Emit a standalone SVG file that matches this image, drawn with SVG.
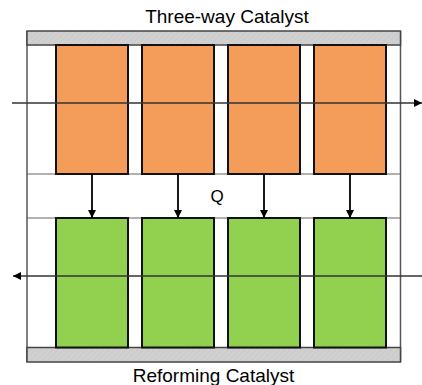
<svg xmlns="http://www.w3.org/2000/svg" width="422" height="385" viewBox="0 0 422 385">
  <style>
    .label { font-family: "Liberation Sans", Arial, sans-serif; fill: #000; }
    .frame { fill: none; stroke: #555; stroke-width: 1.5; }
    .band { stroke: #666; stroke-width: 1.2; }
    .bar { fill: url(#hatch); stroke: #444; stroke-width: 1.5; }
    .twc { fill: #F49D5A; stroke: #111; stroke-width: 2; }
    .ref { fill: #92D050; stroke: #111; stroke-width: 2; }
    .flow { stroke: #333; stroke-width: 1.5; fill: none; }
    .q { stroke: #000; stroke-width: 1.8; fill: none; }
  </style>
  <defs>
    <pattern id="hatch" width="4" height="4" patternUnits="userSpaceOnUse" patternTransform="rotate(45)">
      <rect width="4" height="4" fill="#d0d0d0"/>
      <line x1="0" y1="0" x2="0" y2="4" stroke="#c4c4c4" stroke-width="1"/>
    </pattern>
    <marker id="head" viewBox="0 0 10 10" refX="10" refY="5" markerWidth="8" markerHeight="8" markerUnits="userSpaceOnUse" orient="auto">
      <path d="M0,0 L10,5 L0,10 Z" fill="#000"/>
    </marker>
    <marker id="headq" viewBox="0 0 10 10" refX="10" refY="5" markerWidth="11" markerHeight="8" markerUnits="userSpaceOnUse" orient="auto">
      <path d="M0,0 L10,5 L0,10 Z" fill="#000"/>
    </marker>
  </defs>

  <g id="frame">
    <line class="frame" x1="27" y1="31" x2="27" y2="362"/>
    <line class="frame" x1="400.5" y1="31" x2="400.5" y2="362"/>
    <line class="band" x1="27" y1="174" x2="400.5" y2="174"/>
    <line class="band" x1="27" y1="218" x2="400.5" y2="218"/>
  </g>

  <g id="top-bar"><rect class="bar" x="27" y="31" width="373.5" height="14"/></g>
  <g id="bottom-bar"><rect class="bar" x="27" y="347.5" width="373.5" height="14.5"/></g>

  <g id="twc-1"><rect class="twc" x="56" y="45" width="72" height="129"/></g>
  <g id="twc-2"><rect class="twc" x="142" y="45" width="72" height="129"/></g>
  <g id="twc-3"><rect class="twc" x="228" y="45" width="72" height="129"/></g>
  <g id="twc-4"><rect class="twc" x="314" y="45" width="72" height="129"/></g>

  <g id="ref-1"><rect class="ref" x="56" y="218" width="72" height="129.5"/></g>
  <g id="ref-2"><rect class="ref" x="142" y="218" width="72" height="129.5"/></g>
  <g id="ref-3"><rect class="ref" x="228" y="218" width="72" height="129.5"/></g>
  <g id="ref-4"><rect class="ref" x="314" y="218" width="72" height="129.5"/></g>

  <g id="connectors">
    <line class="flow" x1="12" y1="103" x2="422" y2="103" marker-end="url(#head)"/>
    <line class="flow" x1="422" y1="276" x2="13" y2="276" marker-end="url(#head)"/>
    <line class="q" x1="92" y1="174" x2="92" y2="218" marker-end="url(#headq)"/>
    <line class="q" x1="178" y1="174" x2="178" y2="218" marker-end="url(#headq)"/>
    <line class="q" x1="264" y1="174" x2="264" y2="218" marker-end="url(#headq)"/>
    <line class="q" x1="350" y1="174" x2="350" y2="218" marker-end="url(#headq)"/>
  </g>

  <g id="labels">
    <text class="label" x="227" y="22.5" font-size="19" text-anchor="middle">Three-way Catalyst</text>
    <text class="label" x="217" y="202" font-size="17" text-anchor="middle">Q</text>
    <text class="label" x="213.5" y="382" font-size="19" text-anchor="middle">Reforming Catalyst</text>
  </g>
</svg>
